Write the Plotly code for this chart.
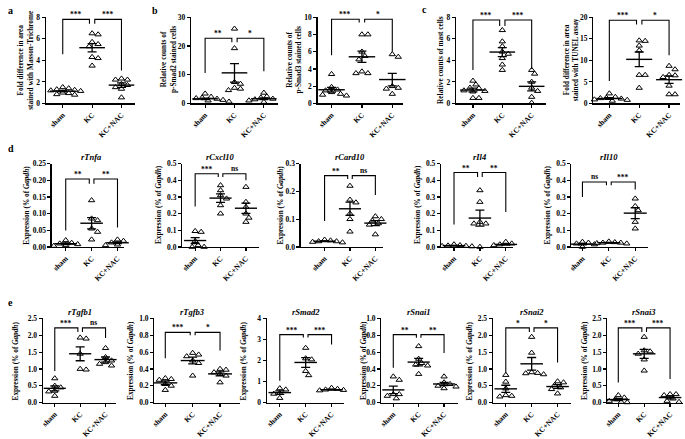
import numpy as np
import plotly.graph_objects as go

W, H = 685, 439
GROUPS = ["sham", "KC", "KC+NAC"]

# ---------------- data ----------------
# a: Masson-Trichrome
a_sham = [1.5, 1.4, 1.3, 1.25, 1.2, 1.15, 1.1, 1.0, 0.95, 0.85, 0.8]
a_kc = [6.5, 6.4, 5.7, 5.5, 5.3, 4.3, 4.2, 3.5]
a_nac = [2.3, 2.2, 2.2, 1.8, 1.7, 1.5, 1.35, 0.55]
# b: p-Smad2
b1_sham = [3.4, 2.3, 2.0, 1.8, 1.6, 1.4, 1.2, 1.0, 0.8, 0.6]
b1_kc = [26.0, 19.2, 7.4, 6.8, 5.4, 5.1, 4.6]
b1_nac = [3.7, 2.4, 2.0, 1.6, 1.4, 1.2, 1.0, 0.8, 0.5]
# b: p-Smad3
b2_sham = [3.4, 1.9, 1.6, 1.5, 1.3, 1.1, 1.0, 0.9]
b2_kc = [8.0, 8.0, 6.0, 5.5, 5.1, 3.7, 3.5, 3.5]
b2_nac = [5.7, 5.4, 2.0, 1.8, 1.7, 1.7, 1.1]
# c: mast cells
c1_sham = [2.1, 1.75, 1.45, 1.4, 1.2, 1.15, 1.1, 0.5, 0.5]
c1_kc = [6.8, 5.75, 5.3, 4.8, 4.6, 4.2, 3.6, 3.1]
c1_nac = [3.1, 2.75, 2.0, 1.45, 1.15, 0.6, 0.05]
# c: TUNEL
c2_sham = [2.3, 1.5, 1.3, 1.2, 1.1, 0.9, 0.8, 0.6, 0.5]
c2_kc = [14.6, 14.5, 13.4, 12.3, 6.6, 6.6, 3.6]
c2_nac = [8.7, 7.9, 6.6, 6.5, 6.1, 4.1, 2.1, 2.1]
# d
tnfa_sham = [0.02, 0.012, 0.01, 0.008, 0.005, 0.003]
tnfa_kc = [0.14, 0.085, 0.08, 0.055, 0.045, 0.022]
tnfa_nac = [0.022, 0.018, 0.013, 0.01, 0.007, 0.005]
cxcl10_sham = [0.095, 0.09, 0.035, 0.01, 0.0, 0.0]
cxcl10_kc = [0.37, 0.34, 0.31, 0.29, 0.25, 0.2]
cxcl10_nac = [0.36, 0.27, 0.24, 0.2, 0.175, 0.15]
card10_sham = [0.026, 0.023, 0.02, 0.018, 0.016, 0.02]
card10_kc = [0.22, 0.17, 0.16, 0.12, 0.1, 0.055]
card10_nac = [0.11, 0.1, 0.095, 0.085, 0.08, 0.045]
il4_sham = [0.015, 0.01, 0.008, 0.005, 0.003, 0.006]
il4_kc = [0.34, 0.27, 0.15, 0.14, 0.14, 0.0]
il4_nac = [0.03, 0.02, 0.015, 0.01, 0.01, 0.005]
il10_sham = [0.03, 0.025, 0.02, 0.015, 0.01, 0.0]
il10_kc = [0.032, 0.028, 0.025, 0.022, 0.02, 0.025]
il10_nac = [0.29, 0.245, 0.22, 0.15, 0.11]
# e
tgfb1_sham = [0.72, 0.5, 0.45, 0.35, 0.33, 0.2]
tgfb1_kc = [1.9, 1.93, 1.45, 1.0, 0.98]
tgfb1_nac = [1.62, 1.35, 1.25, 1.2, 1.15, 1.1]
tgfb3_sham = [0.29, 0.28, 0.27, 0.22, 0.2, 0.15]
tgfb3_kc = [0.59, 0.57, 0.55, 0.5, 0.47, 0.32]
tgfb3_nac = [0.4, 0.39, 0.36, 0.34, 0.32, 0.24]
smad2_sham = [0.68, 0.62, 0.45, 0.42, 0.22]
smad2_kc = [2.6, 2.1, 2.05, 1.5, 1.3]
smad2_nac = [0.7, 0.65, 0.62, 0.6, 0.58, 0.55]
snai1_sham = [0.31, 0.27, 0.1, 0.1, 0.08, 0.05]
snai1_kc = [0.67, 0.52, 0.47, 0.45, 0.44, 0.34]
snai1_nac = [0.31, 0.24, 0.22, 0.2, 0.19, 0.17]
snai2_sham = [0.82, 0.62, 0.42, 0.22, 0.2, 0.18]
snai2_kc = [1.95, 1.48, 0.9, 0.88, 0.87, 0.84]
snai2_nac = [0.63, 0.6, 0.52, 0.45, 0.4, 0.27]
snai3_sham = [0.22, 0.15, 0.1, 0.05, 0.02, 0.01]
snai3_kc = [1.95, 1.55, 1.52, 1.45, 1.28, 0.95]
snai3_nac = [0.25, 0.25, 0.22, 0.12, 0.05, 0.02]

# significance brackets: (top, sham leg end, KC leg end, KC+NAC leg end)
brackets = {
    "a": (7.8, 4.57, 7.4, 3.06), "b1": (22.7, 10.6, 21.3, 11.2), "b2": (9.77, 5.6, 9.4, 6.0),
    "c1": (7.75, 3.1, 7.2, 3.2), "c2": (19.3, 5.2, 18.3, 11.2),
    "tnfa": (0.204, 0.049, 0.19, 0.058), "cxcl10": (0.44, 0.243, 0.42, 0.40),
    "card10": (0.257, 0.093, 0.245, 0.187), "il4": (0.447, 0.135, 0.42, 0.21),
    "il10": (0.39, 0.30, 0.37, 0.345),
    "tgfb1": (2.22, 0.94, 2.1, 1.92), "tgfb3": (0.835, 0.528, 0.80, 0.62),
    "smad2": (3.23, 1.04, 3.1, 2.76), "snai1": (0.808, 0.415, 0.77, 0.59),
    "snai2": (2.22, 0.87, 2.1, 1.19), "snai3": (2.22, 0.6, 2.1, 0.7),
}
stars = {
    "a": ("***", "***"), "b1": ("**", "*"), "b2": ("***", "*"), "c1": ("***", "***"),
    "c2": ("***", "*"), "tnfa": ("**", "**"), "cxcl10": ("***", "ns"), "card10": ("**", "ns"),
    "il4": ("**", "**"), "il10": ("ns", "***"), "tgfb1": ("***", "ns"), "tgfb3": ("***", "*"),
    "smad2": ("***", "***"), "snai1": ("**", "**"), "snai2": ("*", "*"), "snai3": ("***", "***"),
}

GAP = "Expression (% of <i>Gapdh</i>)"
TOP = (13.5, 101.5, 57)
ROWD = (163, 248, 205)
ROWE = (321, 407, 364)

# layout spec: key, data, ymax, dtick, fmt, ytitle, title, row, (axis px, sham px, nac px, end px), ytitle x px
panels = [
    ("a", (a_sham, a_kc, a_nac), 8, 2, "d", "Fold difference in area<br>stained with Masson-Trichrome", None, TOP, (43, 60, 119, 133), 22),
    ("b1", (b1_sham, b1_kc, b1_nac), 30, 10, "d", "Relative counts of<br>p-Smad2 stained cells", None, TOP, (189, 203, 262, 276), 166),
    ("b2", (b2_sham, b2_kc, b2_nac), 10, 2, "d", "Relative counts of<br>p-Smad3 stained cells", None, TOP, (316, 330, 391, 402), 292),
    ("c1", (c1_sham, c1_kc, c1_nac), 8, 2, "d", "Relative counts of mast cells", None, TOP, (455, 472, 531, 545), 440),
    ("c2", (c2_sham, c2_kc, c2_nac), 20, 5, "d", "Fold difference in area<br>stained with TUNEL assay", None, TOP, (593, 609, 669, 680), 570),
    ("tnfa", (tnfa_sham, tnfa_kc, tnfa_nac), 0.25, 0.05, ".2f", GAP, "rTnfa", ROWD, (49, 63, 115, 122), 24),
    ("cxcl10", (cxcl10_sham, cxcl10_kc, cxcl10_nac), 0.5, 0.1, ".1f", GAP, "rCxcl10", ROWD, (180, 193, 244, 257), 156),
    ("card10", (card10_sham, card10_kc, card10_nac), 0.3, 0.1, ".1f", GAP, "rCard10", ROWD, (299, 323, 374, 382), 279),
    ("il4", (il4_sham, il4_kc, il4_nac), 0.5, 0.1, ".1f", GAP, "rIl4", ROWD, (440, 453, 505, 512), 417),
    ("il10", (il10_sham, il10_kc, il10_nac), 0.5, 0.1, ".1f", GAP, "rIl10", ROWD, (571, 582, 635, 648), 547),
    ("tgfb1", (tgfb1_sham, tgfb1_kc, tgfb1_nac), 2.5, 0.5, ".1f", GAP, "rTgfb1", ROWE, (40, 52, 103, 113), 13),
    ("tgfb3", (tgfb3_sham, tgfb3_kc, tgfb3_nac), 1.0, 0.2, ".1f", GAP, "rTgfb3", ROWE, (152, 163, 218, 238), 128),
    ("smad2", (smad2_sham, smad2_kc, smad2_nac), 4, 1, "d", GAP, "rSmad2", ROWE, (265, 278, 330, 342), 242),
    ("snai1", (snai1_sham, snai1_kc, snai1_nac), 1.0, 0.2, ".1f", GAP, "rSnai1", ROWE, (380, 392, 443, 457), 362),
    ("snai2", (snai2_sham, snai2_kc, snai2_nac), 2.5, 0.5, ".1f", GAP, "rSnai2", ROWE, (492, 505, 557, 570), 469),
    ("snai3", (snai3_sham, snai3_kc, snai3_nac), 2.5, 0.5, ".1f", GAP, "rSnai3", ROWE, (607, 618, 670, 683), 584),
]

FONT = "Liberation Serif"
TICK = 7.5


def swarm(vals, px_per_unit, px_per_cat, msize=5.0):
    vals = np.asarray(vals, float)
    order = np.argsort(-vals)
    placed = []
    offs = np.zeros(len(vals))
    step = msize * 0.6
    for i in order:
        ypx = vals[i] * px_per_unit
        for k in range(0, 60):
            cands = [0.0] if k == 0 else [k * step, -k * step]
            ok = None
            for c in cands:
                if all((c - px) ** 2 + (ypx - py) ** 2 >= (msize * 0.95) ** 2 for px, py in placed):
                    ok = c
                    break
            if ok is not None:
                placed.append((ok, ypx))
                offs[i] = ok / px_per_cat
                break
    return offs


fig = go.Figure()
annotations = []
shapes = []

for n, (key, groups, ymax, dtick, fmt, ytitle, title, row, (axp, shp, nacp, endp), labx) in enumerate(panels, start=1):
    ytop, ybot, ylab = row
    sp = (nacp - shp) / 2.0
    xr = [-(shp - axp) / sp, 2 + (endp - nacp) / sp]
    ppu = (ybot - ytop) / ymax
    xa = "x" if n == 1 else f"x{n}"
    ya = "y" if n == 1 else f"y{n}"
    for gi, vals in enumerate(groups):
        offs = swarm(vals, ppu, sp)
        fig.add_trace(go.Scatter(
            x=[gi + o for o in offs], y=vals, mode="markers", xaxis=xa, yaxis=ya,
            marker=dict(symbol="triangle-up-open", size=5.5, color="black", line=dict(width=1, color="black")),
            cliponaxis=False, showlegend=False, hoverinfo="skip"))
        arr = np.asarray(vals, float)
        m = arr.mean()
        sem = arr.std(ddof=1) / np.sqrt(len(arr))
        fig.add_trace(go.Scatter(
            x=[gi], y=[m], mode="markers", xaxis=xa, yaxis=ya,
            marker=dict(symbol="line-ew-open", size=0.62 * sp, color="black", line=dict(width=1.4, color="black")),
            error_y=dict(type="data", array=[sem], visible=True, color="black", thickness=1.3, width=4.5),
            cliponaxis=False, showlegend=False, hoverinfo="skip"))
    lay_x = dict(domain=[axp / W, endp / W], range=xr, anchor=ya, tickmode="array",
                 tickvals=[0, 1, 2], ticktext=GROUPS, tickangle=-45, showline=True, linecolor="black",
                 linewidth=1.3, ticks="outside", ticklen=3, tickwidth=1.2, tickcolor="black",
                 showgrid=False, zeroline=False, fixedrange=True,
                 tickfont=dict(family=FONT, size=TICK, color="black", weight="bold"))
    lay_y = dict(domain=[1 - ybot / H, 1 - ytop / H], range=[0, ymax * 1.0005], anchor=xa,
                 dtick=dtick, tick0=0, tickformat=fmt, showline=True, linecolor="black", linewidth=1.3,
                 ticks="outside", ticklen=3, tickwidth=1.2, tickcolor="black", showgrid=False,
                 zeroline=False, fixedrange=True,
                 tickfont=dict(family=FONT, size=TICK, color="black", weight="bold"))
    fig.layout[("xaxis" if n == 1 else f"xaxis{n}")] = lay_x
    fig.layout[("yaxis" if n == 1 else f"yaxis{n}")] = lay_y

    # y-axis title
    annotations.append(dict(text=ytitle, x=labx / W, y=1 - ylab / H, xref="paper", yref="paper",
                            textangle=-90, xanchor="center", yanchor="middle", showarrow=False,
                            font=dict(family=FONT, size=7.3, color="black", weight="bold")))
    if title:
        annotations.append(dict(text=f"<i>{title}</i>", x=1, y=1 - (ytop - 7) / H, xref=xa, yref="paper",
                                xanchor="center", yanchor="middle", showarrow=False,
                                font=dict(family=FONT, size=8.5, color="black", weight="bold")))
    top, ls, lk, ln = brackets[key]
    g = 0.09
    shapes.append(dict(type="path", xref=xa, yref=ya,
                       path=f"M 0,{ls} L 0,{top} L {1 - g},{top} L {1 - g},{lk}",
                       line=dict(color="black", width=1.1)))
    shapes.append(dict(type="path", xref=xa, yref=ya,
                       path=f"M {1 + g},{lk} L {1 + g},{top} L 2,{top} L 2,{ln}",
                       line=dict(color="black", width=1.1)))
    s1, s2 = stars[key]
    for xm, s in (((1 - g) / 2, s1), (1 + g + (1 - g) / 2, s2)):
        annotations.append(dict(text=s, x=xm, y=top, xref=xa, yref=ya, xanchor="center",
                                yanchor="bottom", yshift=-2 if s != "ns" else -1, showarrow=False,
                                font=dict(family=FONT, size=7.5, color="black", weight="bold")))

for letter, (lx, ly) in {"a": (8, 7), "b": (153, 7), "c": (423, 6), "d": (8, 148), "e": (8, 305)}.items():
    annotations.append(dict(text=letter, x=lx / W, y=1 - ly / H, xref="paper", yref="paper",
                            xanchor="center", yanchor="middle", showarrow=False,
                            font=dict(family=FONT, size=10, color="black", weight="bold")))

fig.update_layout(width=W, height=H, margin=dict(l=0, r=0, t=0, b=0), autosize=False,
                  paper_bgcolor="white", plot_bgcolor="white", showlegend=False,
                  font=dict(family=FONT, size=8, color="black", weight="bold"),
                  annotations=annotations, shapes=shapes)

fig.write_html("out.html", config={"displayModeBar": False, "staticPlot": True},
               post_script="document.body.style.margin='0';document.body.style.overflow='hidden';")
